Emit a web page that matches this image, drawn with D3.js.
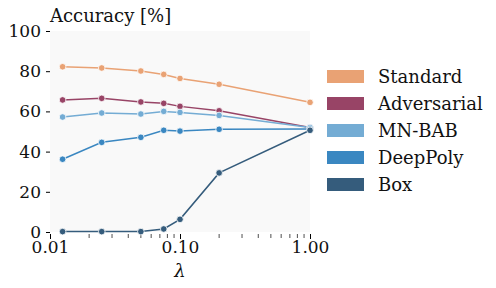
<!DOCTYPE html>
<html>
<head>
<meta charset="utf-8">
<script src="https://cdn.jsdelivr.net/npm/d3@7"></script>
<style>
body { margin: 0; background: #fff; }
svg text { fill: #111; }
</style>
</head>
<body>
<script>
var width = 496,
    height = 288;
var font = "'DejaVu Serif', 'DejaVu Sans', sans-serif";

var lambdas = [0.0125, 0.025, 0.05, 0.075, 0.1, 0.2, 1.0];
var names = ["Standard", "Adversarial", "MN-BAB", "DeepPoly", "Box"];
var colors = ["#e9a274", "#984466", "#74acd4", "#3a87c1", "#355c7c"];
var standard = [82.2, 81.6, 80.1, 78.4, 76.4, 73.5, 64.5];
var adversarial = [65.7, 66.5, 64.7, 64.0, 62.5, 60.3, 52.0];
var mnbab = [57.2, 59.2, 58.7, 60.0, 59.5, 58.0, 52.0];
var deeppoly = [36.2, 44.6, 47.1, 50.6, 50.2, 51.1, 51.2];
var box = [0.2, 0.2, 0.2, 1.5, 6.3, 29.4, 50.6];
var series = [standard, adversarial, mnbab, deeppoly, box];
var xTicks = [0.01, 0.1, 1];
var yTicks = [0, 20, 40, 60, 80, 100];

var x = d3.scaleLog().domain([0.01, 1]).range([50, 310]);
var y = d3.scaleLinear().domain([0, 100]).range([232, 31]);

var svg = d3.select("body").append("svg")
    .attr("width", width)
    .attr("height", height)
    .attr("font-family", font);

svg.append("rect")
    .attr("x", x.range()[0])
    .attr("y", y.range()[1])
    .attr("width", x.range()[1] - x.range()[0])
    .attr("height", y.range()[0] - y.range()[1])
    .attr("fill", "#f9f9f9");

// y axis
var yAxis = svg.append("g")
    .attr("transform", "translate(50,0)")
    .call(d3.axisLeft(y).tickValues(yTicks).tickSize(4).tickPadding(5));
yAxis.attr("font-family", font).attr("font-size", 17);
yAxis.select(".domain").remove();

// x axis minor ticks
var minor = [];
[0.01, 0.1].forEach(function(b) {
    for (var k = 2; k <= 9; k++) minor.push(b * k);
});
svg.append("g").selectAll("line")
    .data(minor)
    .enter().append("line")
    .attr("x1", function(d) { return x(d); })
    .attr("x2", function(d) { return x(d); })
    .attr("y1", 234)
    .attr("y2", 238)
    .attr("stroke", "#222")
    .attr("stroke-width", 0.8);

var xAxis = svg.append("g")
    .attr("transform", "translate(0,234)")
    .call(d3.axisBottom(x).tickValues(xTicks).tickSize(5).tickPadding(2)
        .tickFormat(d3.format(".2f")));
xAxis.attr("font-family", font).attr("font-size", 17);
xAxis.select(".domain").remove();

svg.append("text")
    .attr("x", 180)
    .attr("y", 277)
    .attr("text-anchor", "middle")
    .attr("font-size", 18)
    .attr("font-style", "italic")
    .text("λ");

svg.append("text")
    .attr("x", 50)
    .attr("y", 22)
    .attr("font-size", 18)
    .text("Accuracy [%]");

var line = d3.line()
    .x(function(d, i) { return x(lambdas[i]); })
    .y(function(d) { return y(d); });

var g = svg.selectAll("g.series")
    .data(series)
    .enter().append("g")
    .attr("class", "series");

g.append("path")
    .attr("d", line)
    .attr("fill", "none")
    .attr("stroke", function(d, i) { return colors[i]; })
    .attr("stroke-width", 1.5);

g.selectAll("circle")
    .data(function(d, i) { return d.map(function(v, j) { return { v: v, j: j, c: colors[i] }; }); })
    .enter().append("circle")
    .attr("cx", function(d) { return x(lambdas[d.j]); })
    .attr("cy", function(d) { return y(d.v); })
    .attr("r", 3.3)
    .attr("fill", function(d) { return d.c; })
    .attr("stroke", "#fff")
    .attr("stroke-width", 0.8);

// legend
var leg = svg.selectAll("g.leg")
    .data(names)
    .enter().append("g")
    .attr("class", "leg")
    .attr("transform", function(d, i) { return "translate(327," + (76.5 + i * 27) + ")"; });

leg.append("rect")
    .attr("x", 0)
    .attr("y", -6.5)
    .attr("width", 37)
    .attr("height", 13)
    .attr("fill", function(d, i) { return colors[i]; });

leg.append("text")
    .attr("x", 51)
    .attr("y", 6)
    .attr("font-size", 18)
    .text(function(d) { return d; });
</script>
</body>
</html>
